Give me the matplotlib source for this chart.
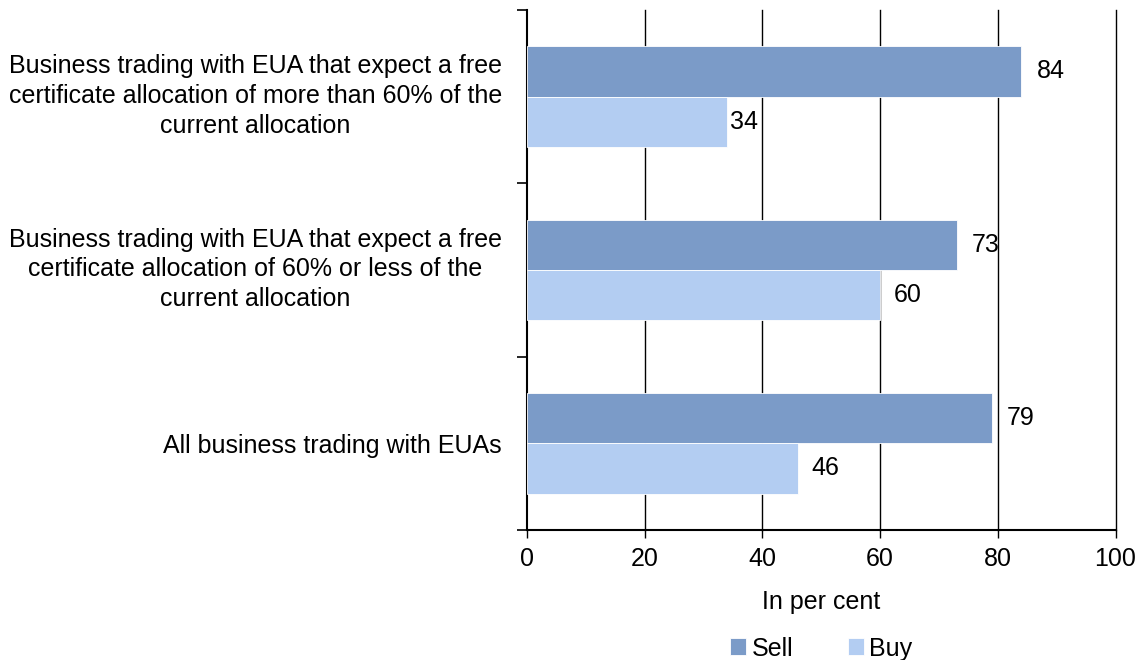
import matplotlib.pyplot as plt
import matplotlib.transforms as mtransforms
import numpy as np

plt.rcParams['font.family'] = ['Liberation Sans', 'DejaVu Sans']

# categories from bottom to top
categories = [
    "All business trading with EUAs",
    "Business trading with EUA that expect a free\ncertificate allocation of 60% or less of the\ncurrent allocation",
    "Business trading with EUA that expect a free\ncertificate allocation of more than 60% of the\ncurrent allocation",
]
sell = [79, 73, 84]
buy = [46, 60, 34]
xticks = [0, 20, 40, 60, 80, 100]

sell_color = '#7b9bc8'
buy_color = '#b3cdf2'
fs = 18

fig = plt.figure(figsize=(11.42, 6.6), dpi=100)
ax = fig.add_axes([527 / 1142, 0.197, 588.5 / 1142, 0.788])

y = np.arange(len(categories))
h = 0.29
ax.barh(y + h / 2, sell, height=h, color=sell_color, edgecolor='white', linewidth=0.6, label='Sell', zorder=3)
ax.barh(y - h / 2, buy, height=h, color=buy_color, edgecolor='white', linewidth=0.6, label='Buy', zorder=3)

# value labels (gap in data units; the "34" sits tight against its bar)
sell_gap = [2.6, 2.6, 2.6]
buy_gap = [2.4, 2.4, 0.5]
for yi, v, g in zip(y, sell, sell_gap):
    ax.text(v + g, yi + h / 2, str(v), va='center', ha='left', fontsize=fs, zorder=4)
for yi, v, g in zip(y, buy, buy_gap):
    ax.text(v + g, yi - h / 2, str(v), va='center', ha='left', fontsize=fs, zorder=4)

ax.set_xlim(0, 100)
ax.set_ylim(-0.5, 2.5)
ax.set_xticks(xticks)
ax.set_xticklabels([str(t) for t in xticks], fontsize=fs)
ax.tick_params(axis='x', length=6, width=1, pad=6)

ax.set_yticks(y)
ax.set_yticklabels(categories, fontsize=fs, multialignment='center', linespacing=1.3)
ax.tick_params(axis='y', which='major', length=0, pad=18)
ax.set_yticks([-0.5, 0.5, 1.5, 2.5], minor=True)
ax.tick_params(axis='y', which='minor', length=7, width=1.2)

# nudge the three-line labels up a little
shift = mtransforms.ScaledTranslation(0, 6 / 100, fig.dpi_scale_trans)
for lab in ax.get_yticklabels():
    if '\n' in lab.get_text():
        lab.set_transform(lab.get_transform() + shift)

# vertical gridlines, the one at 100 must not be clipped
for t in xticks[1:]:
    ax.axvline(t, color='black', linewidth=1, zorder=1, clip_on=False)
for s in ['top', 'right']:
    ax.spines[s].set_visible(False)
ax.spines['left'].set_linewidth(1.5)
ax.spines['bottom'].set_linewidth(1.5)

ax.set_xlabel("In per cent", fontsize=fs, labelpad=14)

ax.legend(loc='center', bbox_to_anchor=(0.5, -0.228), ncol=2, frameon=False,
          fontsize=fs, handlelength=0.65, handleheight=0.65, handletextpad=0.2,
          columnspacing=2.2)

fig.savefig('out.png', dpi=100)
